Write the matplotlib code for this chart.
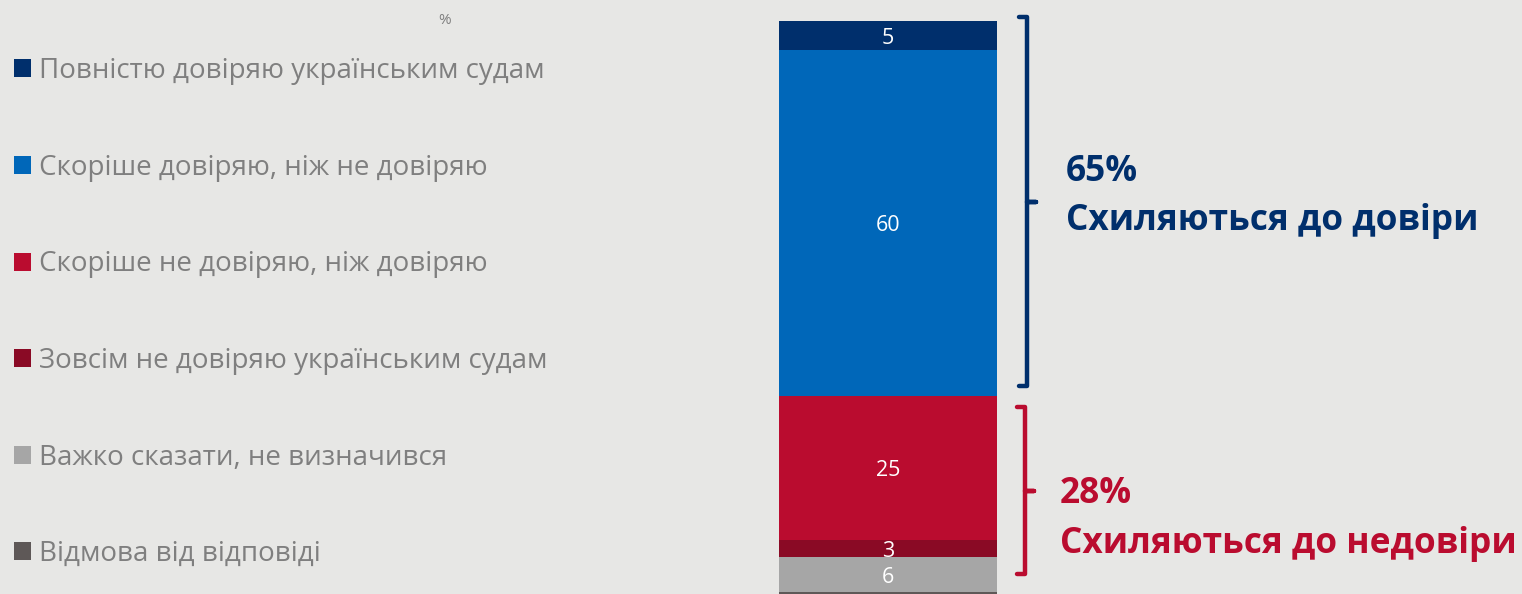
import matplotlib
matplotlib.use("Agg")
import matplotlib.pyplot as plt
from matplotlib.transforms import blended_transform_factory
from matplotlib.path import Path
from matplotlib.patches import PathPatch
import numpy as np

categories = [
    "Повністю довіряю українським судам",
    "Скоріше довіряю, ніж не довіряю",
    "Скоріше не довіряю, ніж довіряю",
    "Зовсім не довіряю українським судам",
    "Важко сказати, не визначився",
    "Відмова від відповіді",
]
values = [5, 60, 25, 3, 6, 1]
labels = ["5", "60", "25", "3", "6", ""]
colors = ["#002F6C", "#0067B9", "#BA0C2F", "#8A0A25", "#A6A6A6", "#5E5857"]
group_pcts = ["65%", "28%"]
group_texts = ["Схиляються до довіри", "Схиляються до недовіри"]
group_colors = ["#002F6C", "#BA0C2F"]

plt.rcParams['font.family'] = ['Open Sans', 'DejaVu Sans']
bg = "#E7E7E5"
fig = plt.figure(figsize=(15.22, 5.94), dpi=100, facecolor=bg)
W, H = 1522, 594
ax = fig.add_axes([779 / W, 0, 218 / W, 1])
ax.set_facecolor("none")
ax.set_xlim(0, 1)
ax.set_ylim(0.6, 103.6)
ax.axis("off")

tops = 100 - np.concatenate([[0], np.cumsum(values)[:-1]])
handles = []
for cat, v, t, c, lab in zip(categories, values, tops, colors, labels):
    b = ax.bar(0.5, v, bottom=t - v, width=1, color=c, label=cat, linewidth=0)
    handles.append(b)
    if lab:
        ax.text(0.5, t - v / 2 - 0.5, lab, ha="center", va="center", color="white", fontsize=15.5)

leg = fig.legend(handles=handles, labels=categories, loc="upper left",
                 bbox_to_anchor=(3 / W, 1 - 46 / H), frameon=False, fontsize=20,
                 labelcolor="#7F7F7F", handlelength=0.62, handleheight=0.62,
                 handletextpad=0.26, labelspacing=2.47, borderaxespad=0)

fig.text(445 / W, 1 - 20 / H, "%", ha="center", va="center", fontsize=11, color="#7F7F7F")

tr = blended_transform_factory(fig.transFigure, ax.transData)
# brace extents in data units (top, bottom, middle), x positions in pixels
brace_y = [(100.7, 36.6, 68.6), (33.0, 4.0, 18.5)]
brace_x = [1027, 1025]
text_x = [1066, 1060]
text_off = [(5.2, -3.3), (-0.6, -9.3)]
for pct, txt, col, (ytop, ybot, ymid), bx, tx, (o1, o2) in zip(
        group_pcts, group_texts, group_colors, brace_y, brace_x, text_x, text_off):
    x0 = (bx - 8) / W
    x1 = bx / W
    x2 = (bx + 9) / W
    verts = [(x0, ytop), (x1, ytop), (x1, ymid), (x2, ymid), (x1, ymid), (x1, ybot), (x0, ybot)]
    codes = [Path.MOVETO] + [Path.LINETO] * 6
    ax.add_patch(PathPatch(Path(verts, codes), transform=tr, fill=False, edgecolor=col,
                           linewidth=3.2, capstyle="round", joinstyle="round", clip_on=False))
    ax.text(tx / W, ymid + o1, pct, transform=tr, ha="left", va="center", fontsize=25.4,
            fontweight="bold", color=col)
    ax.text(tx / W, ymid + o2, txt, transform=tr, ha="left", va="center", fontsize=25.4,
            fontweight="bold", color=col)

fig.savefig("out.png", dpi=100, facecolor=bg)
